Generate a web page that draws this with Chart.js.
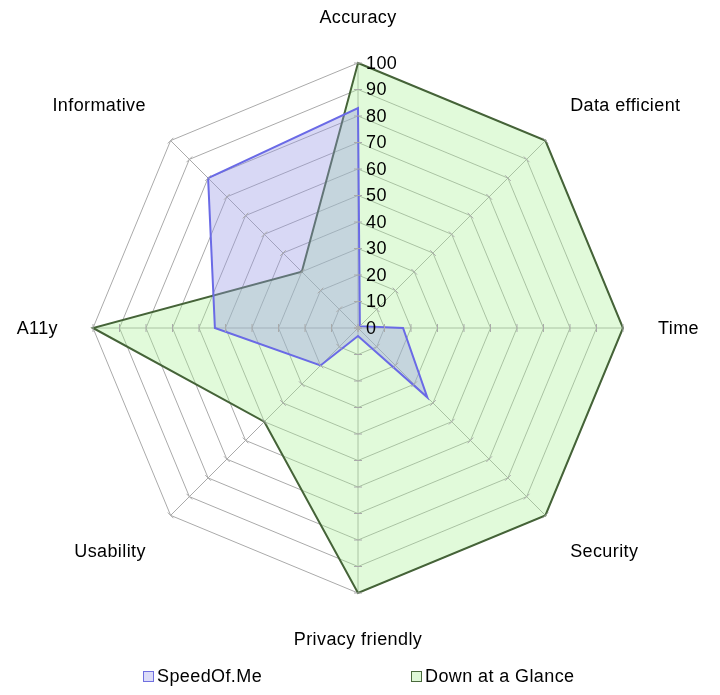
<!DOCTYPE html>
<html>
<head>
<meta charset="utf-8">
<script src="https://cdn.jsdelivr.net/npm/chart.js@4.4.1/dist/chart.umd.min.js"></script>
<style>
    body { margin: 0; background: #fff; }
    #wrap { position: relative; width: 720px; height: 695px; }
    #legend { position: absolute; top: 666px; left: 0; width: 720px; height: 22px;
              font: 18px "Liberation Sans", Arial, sans-serif; letter-spacing: 0.4px; color: #000; }
    .item { position: absolute; top: 0; display: flex; align-items: center; line-height: 20px; }
    .box { width: 11px; height: 11px; margin-right: 3px; box-sizing: border-box; }
</style>
</head>
<body>
<div id="wrap">
    <canvas id="radar" width="720" height="695"></canvas>
    <div id="legend">
        <div class="item" style="left:143px"><span class="box" style="background:#dcdcf8;border:1px solid #7070e0"></span>SpeedOf.Me</div>
        <div class="item" style="left:411px"><span class="box" style="background:#def8d6;border:1px solid #4a6a3c"></span>Down at a Glance</div>
    </div>
</div>
<script>
const categories = ['Accuracy', 'Data efficient', 'Time', 'Security', 'Privacy friendly', 'Usability', 'A11y', 'Informative'];
const speedOfMe = [83, 1, 17, 37, 3, 20, 54, 80];
const downAtAGlance = [100, 100, 100, 100, 100, 50, 100, 30];
const tickValues = [0, 10, 20, 30, 40, 50, 60, 70, 80, 90, 100];

const labelFont = '18px "Liberation Sans", Arial, sans-serif';

// tick marks on the spokes, the value labels and the category labels
const axisDecor = {
    id: 'axisDecor',
    afterDatasetsDraw(chart) {
        const scale = chart.scales.r;
        const ctx = chart.ctx;
        ctx.save();
        ctx.strokeStyle = '#aaaaaa';
        ctx.lineWidth = 1;
        categories.forEach((c, i) => {
            const a = scale.getIndexAngle(i);
            const px = Math.cos(a), py = Math.sin(a); // perpendicular to spoke
            tickValues.forEach(v => {
                const p = scale.getPointPositionForValue(i, v);
                ctx.beginPath();
                ctx.moveTo(p.x - px * 4, p.y - py * 4);
                ctx.lineTo(p.x + px * 4, p.y + py * 4);
                ctx.stroke();
            });
        });

        ctx.font = labelFont;
        ctx.letterSpacing = '0.4px';
        ctx.fillStyle = '#000';
        ctx.textBaseline = 'middle';
        ctx.textAlign = 'left';
        tickValues.forEach(v => {
            const p = scale.getPointPositionForValue(0, v);
            ctx.fillText(String(v), p.x + 8, p.y + 1);
        });

        categories.forEach((c, i) => {
            const p = scale.getPointPosition(i, scale.drawingArea + 35);
            const deg = Math.round(scale.getIndexAngle(i) * 180 / Math.PI) % 360;
            let y = p.y + 1;
            if (deg === 0 || deg === 180) ctx.textAlign = 'center';
            else if (deg < 180) ctx.textAlign = 'left';
            else ctx.textAlign = 'right';
            if (deg > 270 || deg < 90) y -= 11;
            else if (deg > 90 && deg < 270) y += 11;
            ctx.fillText(c, p.x, y);
        });
        ctx.restore();
    }
};

new Chart(document.getElementById('radar'), {
    type: 'radar',
    data: {
        labels: categories,
        datasets: [{
            label: 'SpeedOf.Me',
            data: speedOfMe,
            borderColor: '#6a6ae6',
            backgroundColor: 'rgba(150, 148, 228, 0.37)',
            borderWidth: 2,
            fill: true,
            pointRadius: 0,
            tension: 0
        }, {
            label: 'Down at a Glance',
            data: downAtAGlance,
            borderColor: '#456338',
            backgroundColor: 'rgba(170, 240, 150, 0.35)',
            borderWidth: 2,
            fill: true,
            pointRadius: 0,
            tension: 0
        }]
    },
    options: {
        responsive: false,
        animation: false,
        devicePixelRatio: 1,
        layout: { padding: { left: 93, right: 97, top: 63, bottom: 102 } },
        plugins: {
            legend: { display: false },
            tooltip: { enabled: false }
        },
        scales: {
            r: {
                min: 0,
                max: 100,
                ticks: { display: false, stepSize: 10 },
                pointLabels: { display: false },
                grid: { color: '#aaaaaa', lineWidth: 1 },
                angleLines: { color: '#aaaaaa', lineWidth: 1 }
            }
        }
    },
    plugins: [axisDecor]
});
</script>
</body>
</html>
